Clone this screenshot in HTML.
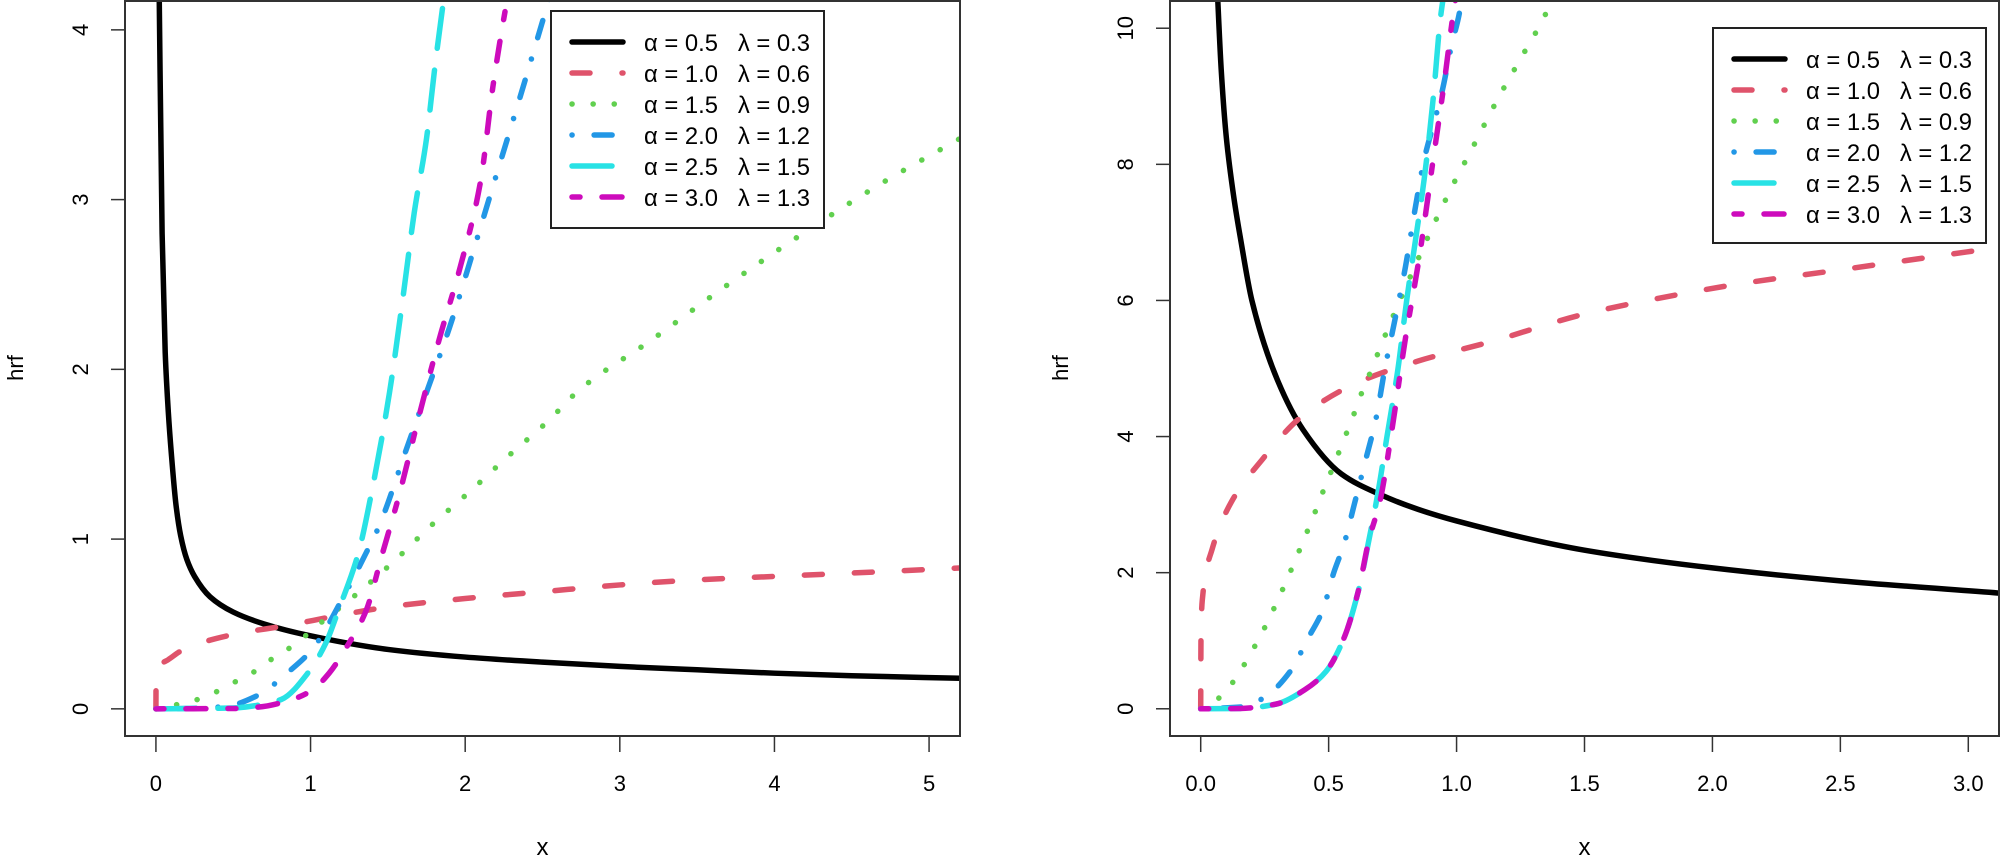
<!DOCTYPE html>
<html><head><meta charset="utf-8"><title>hrf plots</title>
<style>
html,body{margin:0;padding:0;background:#fff;}
svg{display:block;}
text{font-family:"Liberation Sans",sans-serif;fill:#000;}
.leg{white-space:pre;}
</style></head>
<body>
<svg id="chart" width="2001" height="866" viewBox="0 0 2001 866" xmlns="http://www.w3.org/2000/svg"></svg>
<script>
// ---------- data ----------
const legendLabels = ["α = 0.5   λ = 0.3","α = 1.0   λ = 0.6","α = 1.5   λ = 0.9","α = 2.0   λ = 1.2","α = 2.5   λ = 1.5","α = 3.0   λ = 1.3"];
const leftXTicks = [0,1,2,3,4,5];
const leftYTicks = [0,1,2,3,4];
const rightXTicks = [0,0.5,1,1.5,2,2.5,3];
const rightXTickLabels = ["0.0","0.5","1.0","1.5","2.0","2.5","3.0"];
const rightYTicks = [0,2,4,6,8,10];

// left panel series
const L_black_x = [0.02,0.04,0.06,0.08,0.1,0.13,0.16,0.2,0.25,0.35,0.5,0.7,1,1.5,2,2.5,3,3.5,4,4.5,5.2];
const L_black_y = [4.3,2.8,2.1,1.75,1.5,1.2,1.02,0.88,0.78,0.66,0.57,0.5,0.43,0.35,0.305,0.275,0.25,0.23,0.21,0.195,0.18];
const L_red_x = [0,0.001,0.03,0.08,0.18,0.51,0.84,1.18,1.5,2,2.5,3,3.5,4,4.5,5.2];
const L_red_y = [0,0.2,0.26,0.29,0.35,0.44,0.49,0.55,0.60,0.65,0.69,0.73,0.76,0.78,0.80,0.83];
const L_green_x = [0,0.16,0.32,0.47,0.62,0.76,0.9,1.03,1.29,1.54,1.78,2.03,2.28,2.53,2.74,3.2,3.7,4.25,4.7,5.2];
const L_green_y = [0,0.03,0.07,0.14,0.21,0.30,0.38,0.48,0.67,0.87,1.08,1.28,1.49,1.69,1.88,2.17,2.5,2.84,3.1,3.36];
const L_blue_x = [0,0.2,0.45,0.66,0.86,1.01,1.23,1.36,1.44,1.62,1.76,1.9,2.05,2.18,2.38,2.51,2.6];
const L_blue_y = [0,0.002,0.014,0.08,0.22,0.35,0.69,0.92,1.07,1.53,1.89,2.25,2.69,3.08,3.68,4.08,4.35];
const L_cyan_x = [0,0.5,0.65,0.81,0.99,1.1,1.18,1.31,1.4,1.51,1.6,1.67,1.75,1.8,1.86,1.9];
const L_cyan_y = [0,0.005,0.02,0.055,0.22,0.39,0.58,0.92,1.3,1.86,2.44,2.92,3.36,3.75,4.17,4.4];
const L_mag_x = [0,0.5,0.66,0.88,1.01,1.12,1.23,1.36,1.46,1.57,1.7,1.83,1.97,2.1,2.18,2.27,2.32];
const L_mag_y = [0,0.002,0.01,0.055,0.11,0.21,0.36,0.58,0.9,1.25,1.72,2.17,2.61,3.11,3.67,4.17,4.4];

// right panel series
const R_black_x = [0.062,0.08,0.1,0.13,0.156,0.2,0.3,0.4,0.55,0.7,0.85,1.0,1.5,2.0,2.5,3.12];
const R_black_y = [10.8,9.4,8.4,7.5,6.9,6.0,4.83,4.1,3.45,3.15,2.93,2.76,2.33,2.07,1.88,1.7];
const R_red_x = [0,0.001,0.006,0.045,0.12,0.24,0.39,0.6,0.85,1.13,1.5,1.9,2.1,2.5,3.12];
const R_red_y = [0,1.0,1.59,2.35,3.04,3.66,4.28,4.77,5.11,5.39,5.8,6.11,6.24,6.45,6.78];
const R_green_x = [0,0.082,0.142,0.195,0.243,0.287,0.328,0.368,0.407,0.445,0.481,0.519,0.556,0.593,0.628,0.667,0.703,0.742,0.781,0.904,0.947,0.99,1.038,1.084,1.13,1.177,1.227,1.276,1.328,1.36];
const R_green_y = [0,0.19,0.48,0.81,1.14,1.48,1.82,2.17,2.52,2.87,3.22,3.57,3.92,4.27,4.63,4.98,5.32,5.68,6.02,7.06,7.4,7.73,8.07,8.4,8.74,9.07,9.4,9.72,10.06,10.3];
const R_blue_x = [0,0.17,0.264,0.35,0.42,0.477,0.52,0.56,0.6,0.64,0.686,0.72,0.756,0.8,0.84,0.874,0.916,0.944,0.98,1.007,1.02];
const R_blue_y = [0,0.03,0.21,0.55,1.04,1.45,2.0,2.42,3.0,3.59,4.28,5.0,5.66,6.49,7.39,8.08,8.67,9.08,9.74,10.15,10.4];
const R_cyan_x = [0,0.156,0.296,0.407,0.49,0.56,0.616,0.658,0.693,0.728,0.77,0.805,0.84,0.874,0.909,0.937,0.95];
const R_cyan_y = [0,0.005,0.07,0.28,0.55,1.04,1.73,2.49,3.18,4.0,4.97,6.0,6.9,7.8,8.98,10.15,10.5];
const R_mag_x = [0,0.156,0.296,0.407,0.49,0.56,0.616,0.658,0.7,0.749,0.798,0.854,0.909,0.951,0.993,1.0];
const R_mag_y = [0,0.005,0.07,0.28,0.55,1.04,1.73,2.49,3.04,4.14,5.39,6.63,8.08,9.18,10.36,10.5];

// ---------- styles ----------
const colors = ["#000000","#DF536B","#61D04F","#2297E6","#28E2E5","#CD0BBC"];
const dashes = ["", "18 32", "0.1 21", "0.1 22 18 22", "40 22", "8 22 20 22"];
const seriesNames = ["black-curve","red-curve","green-curve","blue-curve","cyan-curve","magenta-curve"];

const NS = "http://www.w3.org/2000/svg";
const svg = document.getElementById("chart");
function mk(tag, attrs, parent){
  const e = document.createElementNS(NS, tag);
  for (const k in attrs) e.setAttribute(k, attrs[k]);
  (parent||svg).appendChild(e);
  return e;
}

function monoSlopes(xs, ys){
  const n = xs.length, d = [], m = new Array(n);
  for (let i = 0; i < n - 1; i++) d.push((ys[i+1] - ys[i]) / (xs[i+1] - xs[i]));
  m[0] = d[0]; m[n-1] = d[n-2];
  for (let i = 1; i < n - 1; i++) {
    if (d[i-1] * d[i] <= 0) m[i] = 0;
    else {
      const h0 = xs[i] - xs[i-1], h1 = xs[i+1] - xs[i];
      const w1 = 2*h1 + h0, w2 = h1 + 2*h0;
      m[i] = (w1 + w2) / (w1 / d[i-1] + w2 / d[i]);
    }
  }
  return m;
}

function panel(cfg){
  const g = mk("g", {});
  
  
  const sx = v => cfg.px0 + (v - cfg.xmin) / (cfg.xmax - cfg.xmin) * (cfg.px1 - cfg.px0);
  const sy = v => cfg.py0 - (v - cfg.ymin) / (cfg.ymax - cfg.ymin) * (cfg.py0 - cfg.py1);
  const clipId = cfg.name + "-clip";
  const cp = mk("clipPath", {id: clipId}, g);
  mk("rect", {x: cfg.px0, y: cfg.py1, width: cfg.px1 - cfg.px0, height: cfg.py0 - cfg.py1}, cp);
  const lines = mk("g", {"clip-path": "url(#" + clipId + ")"}, g);
  cfg.series.forEach((s, i) => {
    const xs = s[0], ys = s[1];
    const m = monoSlopes(xs, ys);
    let d = "M" + sx(xs[0]).toFixed(2) + "," + sy(ys[0]).toFixed(2);
    for (let j = 0; j < xs.length - 1; j++) {
      const h = xs[j+1] - xs[j];
      const c1x = xs[j] + h/3, c1y = ys[j] + m[j]*h/3;
      const c2x = xs[j+1] - h/3, c2y = ys[j+1] - m[j+1]*h/3;
      d += " C" + sx(c1x).toFixed(2) + "," + sy(c1y).toFixed(2) + " " + sx(c2x).toFixed(2) + "," + sy(c2y).toFixed(2) + " " + sx(xs[j+1]).toFixed(2) + "," + sy(ys[j+1]).toFixed(2);
    }
    const p = mk("path", {d: d, fill: "none", stroke: colors[i], "stroke-width": 5.5, "stroke-linecap": "round", "stroke-linejoin": "round"}, lines);
    if (dashes[i]) p.setAttribute("stroke-dasharray", dashes[i]);
    
    
  });
  const box = mk("rect", {x: cfg.px0, y: cfg.py1, width: cfg.px1 - cfg.px0, height: cfg.py0 - cfg.py1, fill: "none", stroke: "#333", "stroke-width": 2}, g);
  
  
  // x axis
  const xa = mk("g", {}, g);
  
  
  cfg.xticks.forEach((v, i) => {
    const x = sx(v);
    mk("line", {x1: x, x2: x, y1: cfg.py0, y2: cfg.py0 + 16, stroke: "#333", "stroke-width": 1.5}, xa);
    const t = mk("text", {x: x, y: 791, "font-size": 22, "text-anchor": "middle"}, xa);
    t.textContent = cfg.xlabels ? cfg.xlabels[i] : String(v);
    
    
  });
  mk("line", {x1: sx(cfg.xticks[0]), x2: Math.min(sx(cfg.xticks[cfg.xticks.length-1]), cfg.px1), y1: cfg.py0, y2: cfg.py0, stroke: "#333", "stroke-width": 1.5}, xa);
  const xl = mk("text", {x: (cfg.px0 + cfg.px1) / 2, y: 855, "font-size": 24, "text-anchor": "middle"}, g);
  xl.textContent = "x";
  
  
  // y axis
  const ya = mk("g", {}, g);
  
  
  cfg.yticks.forEach(v => {
    const y = sy(v);
    mk("line", {x1: cfg.px0 - 14, x2: cfg.px0, y1: y, y2: y, stroke: "#333", "stroke-width": 1.5}, ya);
    const t = mk("text", {x: cfg.px0 - 37, y: y, "font-size": 22, "text-anchor": "middle", transform: "rotate(-90 " + (cfg.px0 - 37) + " " + y + ")"}, ya);
    t.textContent = String(v);
    
    
  });
  const yl = mk("text", {x: cfg.px0 - 102, y: 368, "font-size": 22, "text-anchor": "middle", transform: "rotate(-90 " + (cfg.px0 - 102) + " 368)"}, g);
  yl.textContent = "hrf";
  
  
  // legend
  const lg = mk("g", {}, g);
  
  
  mk("rect", {x: cfg.lx, y: cfg.ly, width: cfg.lw, height: cfg.lh, fill: "#fff", stroke: "#222", "stroke-width": 2}, lg);
  legendLabels.forEach((lab, i) => {
    const y = cfg.ly + 31 + i * 31;
    const ent = mk("g", {}, lg);
    
    
    const ln = mk("line", {x1: cfg.lx + 21, x2: cfg.lx + 72, y1: y, y2: y, stroke: colors[i], "stroke-width": 5.5, "stroke-linecap": "round"}, ent);
    if (dashes[i]) ln.setAttribute("stroke-dasharray", dashes[i]);
    const t = mk("text", {x: cfg.lx + 93, y: y + 9, "font-size": 24, textLength: 166, lengthAdjust: "spacingAndGlyphs", "class": "leg"}, ent);
    t.setAttributeNS("http://www.w3.org/XML/1998/namespace", "xml:space", "preserve");
    t.textContent = lab;
  });
}

panel({name: "left-panel", px0: 125, px1: 960, py0: 736, py1: 1, xmin: -0.2, xmax: 5.2, ymin: -0.16, ymax: 4.17,
  xticks: leftXTicks, yticks: leftYTicks, lx: 551, ly: 11, lw: 273, lh: 217,
  series: [[L_black_x,L_black_y],[L_red_x,L_red_y],[L_green_x,L_green_y],[L_blue_x,L_blue_y],[L_cyan_x,L_cyan_y],[L_mag_x,L_mag_y]]});
panel({name: "right-panel", px0: 1170, px1: 1999, py0: 736, py1: 1, xmin: -0.12, xmax: 3.12, ymin: -0.4, ymax: 10.4,
  xticks: rightXTicks, xlabels: rightXTickLabels, yticks: rightYTicks, lx: 1713, ly: 28, lw: 273, lh: 215,
  series: [[R_black_x,R_black_y],[R_red_x,R_red_y],[R_green_x,R_green_y],[R_blue_x,R_blue_y],[R_cyan_x,R_cyan_y],[R_mag_x,R_mag_y]]});
</script>
</body></html>
